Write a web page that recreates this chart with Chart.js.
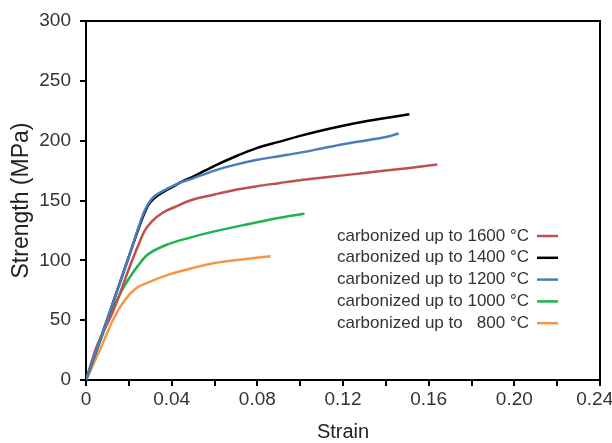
<!DOCTYPE html>
<html>
<head>
<meta charset="utf-8">
<script src="https://cdn.jsdelivr.net/npm/chart.js@4.4.1/dist/chart.umd.min.js"></script>
<style>
  body { margin: 0; background: #fff; }
  #wrap { width: 612px; height: 443px; }
</style>
</head>
<body>
<div id="wrap"><canvas id="myChart"></canvas></div>
<script>
// stress-strain curves
const seriesLabels = [
    'carbonized up to 1600 °C',
    'carbonized up to 1400 °C',
    'carbonized up to 1200 °C',
    'carbonized up to 1000 °C',
    'carbonized up to   800 °C'
];
const seriesColors = ['#c0504d', '#000000', '#4a7ebb', '#1db34f', '#f79646'];

const strain1600 = [0, 0.005, 0.0128, 0.0205, 0.0245, 0.0275, 0.031, 0.036, 0.042, 0.0486, 0.06, 0.07, 0.08, 0.09, 0.10, 0.11, 0.12, 0.13, 0.14, 0.15, 0.164];
const stress1600 = [0, 28, 58, 95, 113, 125, 133, 140, 145, 150, 155, 159, 162, 164.5, 167, 169, 171, 173, 175, 177, 180];

const strain1400 = [0, 0.01, 0.02, 0.0265, 0.029, 0.032, 0.036, 0.04, 0.045, 0.05, 0.06, 0.07, 0.08, 0.09, 0.10, 0.11, 0.12, 0.13, 0.14, 0.151];
const stress1400 = [0, 51, 103, 136, 146, 152, 157, 161, 166, 170, 179, 187, 194, 199, 204, 208.5, 212.5, 216, 219, 222];

const strain1200 = [0, 0.01, 0.02, 0.027, 0.029, 0.031, 0.034, 0.038, 0.044, 0.05, 0.06, 0.07, 0.08, 0.09, 0.10, 0.11, 0.12, 0.13, 0.14, 0.146];
const stress1200 = [0, 51, 103, 140, 147, 152, 156, 160, 165, 168.5, 175, 180, 184, 187, 190, 193.5, 197, 200, 203, 206];

const strain1000 = [0, 0.0097, 0.0159, 0.0205, 0.0245, 0.0283, 0.0377, 0.0486, 0.0594, 0.075, 0.0906, 0.102];
const stress1000 = [0, 47, 72, 86, 96, 104, 113, 119, 124, 130, 135.5, 139];

const strain800 = [0, 0.0065, 0.0128, 0.0174, 0.0237, 0.0283, 0.0392, 0.0486, 0.0594, 0.0719, 0.0862];
const stress800 = [0, 25, 51, 65, 77, 81, 88.5, 93, 97.5, 100.5, 103.5];

const xTickLabels = ['0', '0.04', '0.08', '0.12', '0.16', '0.20', '0.24  '];
const yTickLabels = ['0', '50', '100', '150', '200', '250', '300'];

const allStrain = [strain1600, strain1400, strain1200, strain1000, strain800];
const allStress = [stress1600, stress1400, stress1200, stress1000, stress800];

function toPoints(xs, ys) {
    return xs.map((x, i) => ({ x: x, y: ys[i] }));
}

const datasets = seriesLabels.map((label, i) => ({
    label: label,
    data: toPoints(allStrain[i], allStress[i]),
    borderColor: seriesColors[i],
    backgroundColor: seriesColors[i],
    borderWidth: 2.5,
    pointRadius: 0,
    fill: false,
    cubicInterpolationMode: 'monotone',
    order: i === 2 ? 0 : 1
}));

// frame on top/right + legend inside the plot
const framePlugin = {
    id: 'frameAndLegend',
    afterDraw(chart) {
        const { ctx, chartArea } = chart;
        ctx.save();
        ctx.strokeStyle = '#000';
        ctx.lineWidth = 2;
        ctx.beginPath();
        ctx.moveTo(chartArea.left, chartArea.top);
        ctx.lineTo(chartArea.right, chartArea.top);
        ctx.lineTo(chartArea.right, chartArea.bottom);
        ctx.stroke();

        ctx.font = '17px "Liberation Sans", Arial, sans-serif';
        ctx.fillStyle = '#333';
        ctx.textBaseline = 'middle';
        ctx.textAlign = 'left';
        const top = 236, step = 21.8;
        seriesLabels.forEach((label, i) => {
            const y = top + i * step;
            ctx.fillText(label, 337, y);
            ctx.strokeStyle = seriesColors[i];
            ctx.lineWidth = 2.5;
            ctx.beginPath();
            ctx.moveTo(537, y);
            ctx.lineTo(558, y);
            ctx.stroke();
        });
        ctx.restore();
    }
};

const ctx = document.getElementById('myChart').getContext('2d');
const myChart = new Chart(ctx, {
    type: 'line',
    data: { datasets: datasets },
    plugins: [framePlugin],
    options: {
        responsive: true,
        maintainAspectRatio: false,
        animation: false,
        layout: { padding: { top: 21, right: 12, left: 0, bottom: 0 } },
        plugins: {
            legend: { display: false },
            tooltip: { enabled: false }
        },
        scales: {
            x: {
                type: 'linear',
                min: 0,
                max: 0.24,
                afterFit: function(scale) {
                    scale.height = 63;
                    scale.paddingLeft = 0;
                    scale.paddingRight = 0;
                },
                ticks: {
                    stepSize: 0.02,
                    autoSkip: false,
                    maxRotation: 0,
                    padding: 2,
                    color: '#333',
                    font: { family: '"Liberation Sans", Arial, sans-serif', size: 19 },
                    callback: function(value) {
                        const k = Math.round(value / 0.02);
                        return k % 2 === 0 ? xTickLabels[k / 2] : '';
                    }
                },
                grid: { drawOnChartArea: false, drawTicks: true, tickLength: 6, color: '#000', lineWidth: 2 },
                border: { color: '#000', width: 2 },
                title: {
                    display: true,
                    text: 'Strain',
                    color: '#222',
                    padding: { top: 0, bottom: 1 },
                    font: { family: '"Liberation Sans", Arial, sans-serif', size: 20, lineHeight: 1 }
                }
            },
            y: {
                min: 0,
                max: 300,
                afterFit: function(scale) {
                    scale.width = 86;
                    scale.paddingTop = 0;
                    scale.paddingBottom = 0;
                },
                ticks: {
                    stepSize: 50,
                    padding: 9,
                    color: '#333',
                    font: { family: '"Liberation Sans", Arial, sans-serif', size: 19 },
                    callback: function(value) {
                        return yTickLabels[Math.round(value / 50)];
                    }
                },
                grid: { drawOnChartArea: false, drawTicks: true, tickLength: 6, color: '#000', lineWidth: 2 },
                border: { color: '#000', width: 2 },
                title: {
                    display: true,
                    text: 'Strength (MPa)',
                    color: '#222',
                    padding: { top: 10, bottom: 0 },
                    font: { family: '"Liberation Sans", Arial, sans-serif', size: 23, lineHeight: 1 }
                }
            }
        }
    }
});
</script>
</body>
</html>
